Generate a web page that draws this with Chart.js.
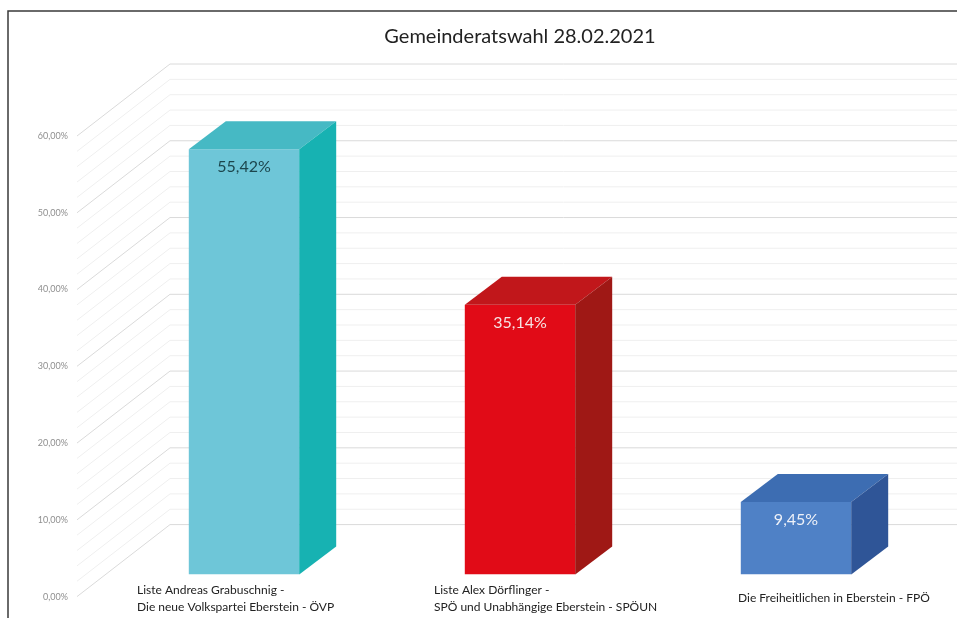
<!DOCTYPE html>
<html>
<head>
<meta charset="utf-8">
<title>Gemeinderatswahl 28.02.2021</title>
<script src="https://cdn.jsdelivr.net/npm/chart.js@4.4.1/dist/chart.umd.min.js"></script>
<style>
  html, body { margin: 0; padding: 0; background: #fff; }
  canvas { display: block; }
</style>
</head>
<body>
<canvas id="wahlChart" width="957" height="618"></canvas>
<script>
// data
var categories = [
    ['Liste Andreas Grabuschnig -', 'Die neue Volkspartei Eberstein - ÖVP'],
    ['Liste Alex Dörflinger -', 'SPÖ und Unabhängige Eberstein - SPÖUN'],
    ['Die Freiheitlichen in Eberstein - FPÖ']
];
var shares = [55.42, 35.14, 9.45];
var yTicks = [0, 10, 20, 30, 40, 50, 60];

// colours per party: front, top, side, value text
var frontColors = ['#6EC6D8', '#E10B17', '#4F81C6'];
var topColors = ['#46B9C4', '#C1171B', '#3D6DB2'];
var sideColors = ['#17B2B2', '#9F1815', '#2F5597'];
var valueColors = ['#1C464D', '#F6E4E4', '#EEF1F8'];

function pct(v) {
    return v.toFixed(2).replace('.', ',') + '%';
}

// fake 3d: back wall, floor diagonals, bar top/side faces, labels
var depth3d = {
    id: 'depth3d',
    beforeDatasetsDraw: function (chart, args, opts) {
        var ctx = chart.ctx;
        var yScale = chart.scales.y;
        ctx.save();
        yScale.ticks.forEach(function (t) {
            var y = yScale.getPixelForValue(t.value);
            var major = yTicks.indexOf(t.value) !== -1;
            ctx.strokeStyle = major ? '#dadada' : '#efefef';
            ctx.lineWidth = 1;
            ctx.beginPath();
            ctx.moveTo(opts.frontX, y + opts.frontDy);
            ctx.lineTo(opts.wallX, y + opts.wallDy);
            ctx.lineTo(chart.width, y + opts.wallDy);
            ctx.stroke();
        });
        ctx.restore();
    },
    afterDatasetsDraw: function (chart, args, opts) {
        var ctx = chart.ctx;
        var meta = chart.getDatasetMeta(0);
        var dx = opts.dx, dy = opts.dy;
        ctx.save();
        meta.data.forEach(function (bar, i) {
            var p = bar.getProps(['x', 'y', 'base', 'width'], true);
            var l = p.x - p.width / 2, r = p.x + p.width / 2;
            // top face
            ctx.fillStyle = topColors[i];
            ctx.beginPath();
            ctx.moveTo(l, p.y);
            ctx.lineTo(r, p.y);
            ctx.lineTo(r + dx, p.y + dy);
            ctx.lineTo(l + dx, p.y + dy);
            ctx.closePath();
            ctx.fill();
            // side face
            ctx.fillStyle = sideColors[i];
            ctx.beginPath();
            ctx.moveTo(r, p.y);
            ctx.lineTo(r + dx, p.y + dy);
            ctx.lineTo(r + dx, p.base + dy);
            ctx.lineTo(r, p.base);
            ctx.closePath();
            ctx.fill();
            // value label
            ctx.fillStyle = valueColors[i];
            ctx.font = '16px Lato, "Open Sans", sans-serif';
            ctx.textAlign = 'center';
            ctx.textBaseline = 'middle';
            ctx.fillText(pct(shares[i]), p.x, p.y + 18);

            // category label under the bar
            var lines = categories[i];
            ctx.fillStyle = '#222';
            ctx.font = '12px Lato, "Open Sans", sans-serif';
            ctx.textAlign = 'left';
            var cy = p.base + 24 - (lines.length - 1) * 8.5;
            lines.forEach(function (txt, k) {
                ctx.fillText(txt, p.x + opts.labelShift[i], cy + k * 17);
            });
        });
        ctx.restore();
    },
    afterDraw: function (chart) {
        // outer frame (top + left)
        var ctx = chart.ctx;
        ctx.save();
        ctx.strokeStyle = '#3a3a3a';
        ctx.lineWidth = 1.5;
        ctx.beginPath();
        ctx.moveTo(chart.width, 11);
        ctx.lineTo(8, 11);
        ctx.lineTo(8, chart.height);
        ctx.stroke();
        ctx.restore();
    }
};

new Chart(document.getElementById('wahlChart').getContext('2d'), {
    type: 'bar',
    data: {
        labels: categories,
        datasets: [{
            data: shares,
            backgroundColor: frontColors,
            borderWidth: 0,
            barPercentage: 0.4,
            categoryPercentage: 1
        }]
    },
    options: {
        responsive: false,
        animation: false,
        layout: { padding: { left: 38, right: 23, top: 0, bottom: 42 } },
        plugins: {
            legend: { display: false },
            tooltip: { enabled: false },
            title: {
                display: true,
                fullSize: false,
                text: 'Gemeinderatswahl 28.02.2021',
                color: '#222',
                font: { family: 'Lato, "Open Sans", sans-serif', size: 20, weight: 'normal' },
                padding: { top: 25, bottom: 65 }
            },
            depth3d: {
                dx: 37, dy: -28,
                frontX: 77, frontDy: 22,
                wallX: 170, wallDy: -50,
                labelShift: [-107, -86, -58]
            }
        },
        scales: {
            x: { display: false },
            y: {
                min: 0,
                max: 60,
                afterFit: function (scale) { scale.width = 68; },
                border: { display: false },
                grid: { display: false, drawTicks: false },
                ticks: {
                    stepSize: 2,
                    autoSkip: false,
                    padding: 38,
                    labelOffset: 22,
                    color: '#8f8f8f',
                    font: { family: 'Lato, "Open Sans", sans-serif', size: 9 },
                    // only label every 10 %
                    callback: function (v) {
                        return yTicks.indexOf(v) !== -1 ? pct(v) : '';
                    }
                }
            }
        }
    },
    plugins: [depth3d]
});
</script>
</body>
</html>
